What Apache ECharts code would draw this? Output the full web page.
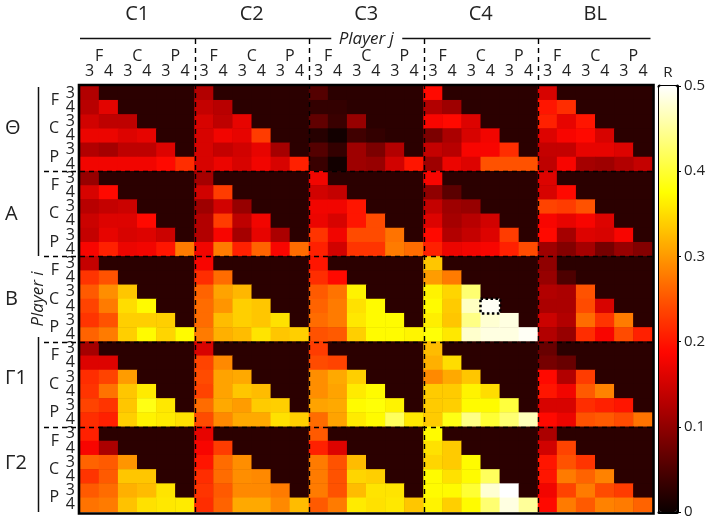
<!DOCTYPE html>
<html>
<head>
<meta charset="utf-8">
<style>
  html, body { margin: 0; background: #fff; }
  #chart { width: 709px; height: 521px; }
</style>
<script src="https://cdn.jsdelivr.net/npm/echarts@6/dist/echarts.min.js"></script>
</head>
<body>
<div id="chart"></div>
<script>
const playerJ = ['C1', 'C2', 'C3', 'C4', 'BL']
const playerI = ['Θ', 'A', 'B', 'Γ1', 'Γ2']
const groups = ['F', 'C', 'P']
const levels = ['3', '4']
const barTicks = [0, 0.1, 0.2, 0.3, 0.4, 0.5]
const emptyR = 0.024
const markedCell = [21, 15]

// lower triangle of each block, one row per line
const thetaC1 = [[.125], [.13, .165], [.15, .135, .135], [.172, .172, .16, .168], [.125, .115, .135, .135, .16], [.177, .177, .177, .177, .19, .218]]
const thetaC2 = [[.125], [.14, .13], [.155, .135, .168], [.155, .177, .168, .23], [.155, .14, .15, .168, .115], [.155, .172, .155, .177, .155, .208]]
const thetaC3 = [[.055], [.03, .03], [.065, .035, .105], [.02, .005, .04, .03], [.055, .03, .11, .085, .125], [.035, .005, .11, .105, .15, .199]]
const thetaC4 = [[.19], [.125, .11], [.182, .19, .16], [.085, .12, .155, .177], [.14, .13, .182, .182, .218], [.11, .172, .16, .248, .248, .248]]
const thetaBL = [[.155], [.199, .218], [.208, .168, .199], [.16, .182, .19, .155], [.14, .14, .168, .168, .16], [.135, .182, .115, .11, .125, .14]]

const aC1 = [[.105], [.155, .19], [.13, .14, .145], [.145, .16, .16, .19], [.14, .168, .155, .16, .145], [.182, .208, .172, .177, .199, .278]]
const aC2 = [[.115], [.15, .23], [.11, .15, .105], [.125, .23, .135, .177], [.125, .182, .115, .168, .12], [.177, .278, .208, .26, .182, .267]]
const aC3 = [[.177], [.15, .14], [.177, .177, .199], [.172, .155, .199, .242], [.224, .177, .242, .242, .272], [.208, .15, .224, .224, .278, .267]]
const aC4 = [[.182], [.1, .06], [.14, .11, .105], [.16, .115, .13, .15], [.19, .125, .14, .16, .23], [.208, .172, .177, .182, .208, .242]]
const aBL = [[.16], [.155, .19], [.236, .23, .248], [.182, .168, .182, .16], [.19, .115, .16, .155, .182], [.11, .09, .115, .08, .105, .09]]

const bC1 = [[.14], [.224, .248], [.254, .292, .333], [.236, .278, .35, .372], [.224, .248, .34, .34, .34], [.26, .278, .34, .372, .344, .372]]
const bC2 = [[.182], [.218, .267], [.26, .307, .322], [.267, .297, .34, .333], [.267, .326, .34, .333, .353], [.278, .317, .326, .355, .333, .34]]
const bC3 = [[.199], [.218, .19], [.254, .272, .366], [.26, .278, .353, .372], [.267, .278, .358, .372, .372], [.248, .254, .34, .372, .372, .368]]
const bC4 = [[.333], [.302, .278], [.366, .344, .43], [.372, .337, .47, .495], [.363, .333, .44, .478, .485], [.378, .358, .475, .485, .485, .495]]
const bBL = [[.1], [.105, .05], [.125, .12, .248], [.12, .12, .242, .155], [.145, .125, .267, .224, .278], [.125, .105, .218, .182, .242, .208]]

const g1C1 = [[.115], [.16, .16], [.218, .236, .302], [.224, .272, .333, .36], [.236, .224, .333, .385, .358], [.218, .208, .34, .366, .36, .353]]
const g1C2 = [[.155], [.236, .288], [.242, .307, .312], [.236, .307, .333, .326], [.267, .312, .302, .337, .34], [.242, .288, .312, .312, .353, .34]]
const g1C3 = [[.23], [.242, .236], [.292, .312, .34], [.292, .307, .36, .372], [.307, .312, .372, .378, .366], [.267, .307, .36, .372, .42, .358]]
const g1C4 = [[.326], [.317, .35], [.288, .312, .333], [.337, .337, .366, .35], [.337, .34, .372, .372, .405], [.337, .385, .44, .4, .43, .465]]
const g1BL = [[.07], [.08, .07], [.19, .125, .23], [.199, .177, .254, .283], [.155, .155, .218, .208, .199], [.19, .172, .248, .254, .242, .272]]

const g2C1 = [[.208], [.182, .12], [.26, .254, .297], [.224, .254, .333, .333], [.254, .267, .317, .326, .355], [.272, .278, .33, .353, .358, .36]]
const g2C2 = [[.168], [.182, .23], [.199, .267, .292], [.218, .267, .292, .288], [.224, .254, .288, .288, .278], [.218, .26, .312, .312, .288, .326]]
const g2C3 = [[.254], [.208, .16], [.278, .248, .326], [.278, .248, .344, .34], [.278, .248, .326, .355, .355], [.254, .278, .36, .353, .358, .333]]
const g2C4 = [[.372], [.353, .337], [.344, .337, .372], [.372, .353, .372, .42], [.372, .372, .4, .478, .5], [.366, .34, .372, .43, .485, .45]]
const g2BL = [[.12], [.15, .236], [.199, .248, .224], [.199, .278, .26, .283], [.177, .236, .278, .242, .23], [.19, .278, .254, .283, .278, .26]]

const blocks = [
  [thetaC1, thetaC2, thetaC3, thetaC4, thetaBL],
  [aC1, aC2, aC3, aC4, aBL],
  [bC1, bC2, bC3, bC4, bBL],
  [g1C1, g1C2, g1C3, g1C4, g1BL],
  [g2C1, g2C2, g2C3, g2C4, g2BL]
]

const font = '"Open Sans", "Noto Sans", sans-serif'
const hot = ['#0b0000', '#5e0000', '#b20000', '#ff0600', '#ff5500', '#ffaa00', '#ffff00', '#ffff80', '#ffffff']

const perBlock = list => playerJ.flatMap(() => list)
const levelCats = perBlock(groups.flatMap(() => levels))
const groupCats = perBlock(groups)

const cells = []
let marked = null
blocks.forEach((row, bi) => {
  row.forEach((block, bj) => {
    for (let r = 0; r < 6; r++) {
      for (let c = 0; c < 6; c++) {
        const x = bj * 6 + c
        const y = bi * 6 + r
        const v = c <= r ? block[r][c] : emptyR
        if (x === markedCell[0] && y === markedCell[1]) {
          marked = {
            value: [x, y, v],
            itemStyle: { borderColor: '#000', borderWidth: 2.5, borderType: [2.5, 2.5] }
          }
        } else {
          cells.push([x, y, v])
        }
      }
    }
  })
})
cells.push(marked)

const blockEdges = [6, 12, 18, 24]
const lineStyle = { stroke: '#000', lineWidth: 1.4, lineDash: [5, 4] }
const ruleStyle = { stroke: '#111', lineWidth: 1.5 }

const renderEdge = (params, api) => {
  const cs = params.coordSys
  const x = Math.round(cs.x + cs.width * api.value(0) / 30) + 0.5
  const y = Math.round(cs.y + cs.height * api.value(0) / 30) + 0.5
  return {
    type: 'group',
    children: [
      { type: 'line', shape: { x1: x, y1: cs.y - 47, x2: x, y2: cs.y + cs.height }, style: lineStyle },
      { type: 'line', shape: { x1: cs.x - 36, y1: y, x2: cs.x + cs.width + 2, y2: y }, style: lineStyle }
    ]
  }
}

// plot frame plus the two header rules, which stop around the Player i / j names
const renderFrame = params => {
  const cs = params.coordSys
  const midX = cs.x + cs.width / 2
  const midY = cs.y + cs.height / 2
  const topY = cs.y - 47.5
  const leftX = cs.x - 41.5
  return {
    type: 'group',
    children: [
      {
        type: 'rect',
        shape: { x: cs.x - 1, y: cs.y - 1, width: cs.width + 2, height: cs.height + 2.5 },
        style: { fill: 'none', stroke: '#000', lineWidth: 2.6 }
      },
      { type: 'line', shape: { x1: cs.x, y1: topY, x2: midX - 35, y2: topY }, style: ruleStyle },
      { type: 'line', shape: { x1: midX + 36, y1: topY, x2: cs.x + cs.width - 2, y2: topY }, style: ruleStyle },
      { type: 'line', shape: { x1: leftX, y1: cs.y + 1, x2: leftX, y2: midY - 43 }, style: ruleStyle },
      { type: 'line', shape: { x1: leftX, y1: midY + 38, x2: leftX, y2: cs.y + cs.height }, style: ruleStyle }
    ]
  }
}

const hidden = { axisLine: { show: false }, axisTick: { show: false }, splitLine: { show: false } }
const labelFont = size => ({ color: '#222', fontFamily: font, fontSize: size, interval: 0 })
const axisName = { fontFamily: font, fontStyle: 'italic', fontSize: 17, color: '#222', verticalAlign: 'middle' }

const chart = echarts.init(document.getElementById('chart'), null, { renderer: 'canvas' })
chart.setOption({
  animation: false,
  backgroundColor: '#fff',
  textStyle: { fontFamily: font },
  grid: [
    { left: 80, top: 86, width: 572.5, height: 426, outerBoundsMode: 'none', show: true, borderWidth: 0, backgroundColor: '#2a0000' },
    { left: 659, top: 86, width: 18, height: 426, outerBoundsMode: 'none' }
  ],
  xAxis: [
    { type: 'category', position: 'top', data: levelCats, ...hidden, axisLabel: { ...labelFont(16), margin: 7 } },
    { type: 'category', position: 'top', data: groupCats, offset: 16, ...hidden, axisLabel: { ...labelFont(16), margin: 6 } },
    {
      type: 'category', position: 'top', data: playerJ, offset: 47, ...hidden,
      axisLabel: { ...labelFont(20), margin: 15 },
      name: 'Player j', nameLocation: 'middle', nameGap: 0, nameMoveOverlap: false,
      nameTextStyle: axisName
    },
    { gridIndex: 1, type: 'category', position: 'top', data: ['R'], ...hidden, axisLine: { show: true, onZero: false, lineStyle: { color: '#000', width: 3 } }, axisLabel: { ...labelFont(15), margin: 6 } },
    { gridIndex: 1, type: 'category', position: 'bottom', data: [''], ...hidden, axisLine: { show: true, onZero: false, lineStyle: { color: '#000', width: 3 } }, axisLabel: { show: false } }
  ],
  yAxis: [
    { type: 'category', inverse: true, position: 'left', data: levelCats, ...hidden, axisLabel: { ...labelFont(16), margin: 5 } },
    { type: 'category', inverse: true, position: 'left', data: groupCats, offset: 16, ...hidden, axisLabel: { ...labelFont(16), margin: 5 } },
    {
      type: 'category', inverse: true, position: 'left', data: playerI, offset: 42, ...hidden,
      axisLabel: {
        ...labelFont(20), margin: 33, align: 'left',
        formatter: v => v.startsWith('Γ') ? `{up|${v}}` : v,
        rich: { up: { fontFamily: font, fontSize: 20, color: '#222', padding: [0, 0, 12, 0] } }
      },
      name: 'Player i', nameLocation: 'middle', nameGap: 0, nameRotate: 90, nameMoveOverlap: false,
      nameTextStyle: axisName
    },
    {
      gridIndex: 1, type: 'value', position: 'right', min: barTicks[0], max: barTicks[5], interval: barTicks[1],
      axisLine: { show: true, onZero: false, lineStyle: { color: '#000', width: 3 } },
      axisTick: { show: true, length: 4, lineStyle: { color: '#000', width: 1 } },
      splitLine: { show: false },
      axisLabel: { color: '#222', fontFamily: font, fontSize: 15, margin: 7 }
    },
    { gridIndex: 1, type: 'value', position: 'left', min: barTicks[0], max: barTicks[5], ...hidden, axisLine: { show: true, onZero: false, lineStyle: { color: '#000', width: 3 } }, axisLabel: { show: false } }
  ],
  visualMap: {
    type: 'continuous',
    seriesIndex: 0,
    dimension: 2,
    min: barTicks[0],
    max: barTicks[5],
    left: 659,
    top: 86,
    padding: 0,
    itemWidth: 18,
    itemHeight: 426,
    calculable: false,
    hoverLink: false,
    inRange: { color: hot }
  },
  series: [
    { type: 'heatmap', xAxisIndex: 0, yAxisIndex: 0, data: cells, progressive: 0 },
    { type: 'custom', xAxisIndex: 0, yAxisIndex: 0, z: 6, data: [[0, 0]], renderItem: renderFrame },
    { type: 'custom', xAxisIndex: 0, yAxisIndex: 0, z: 7, data: blockEdges.map(v => [v, 0]), renderItem: renderEdge }
  ]
})
</script>
</body>
</html>
